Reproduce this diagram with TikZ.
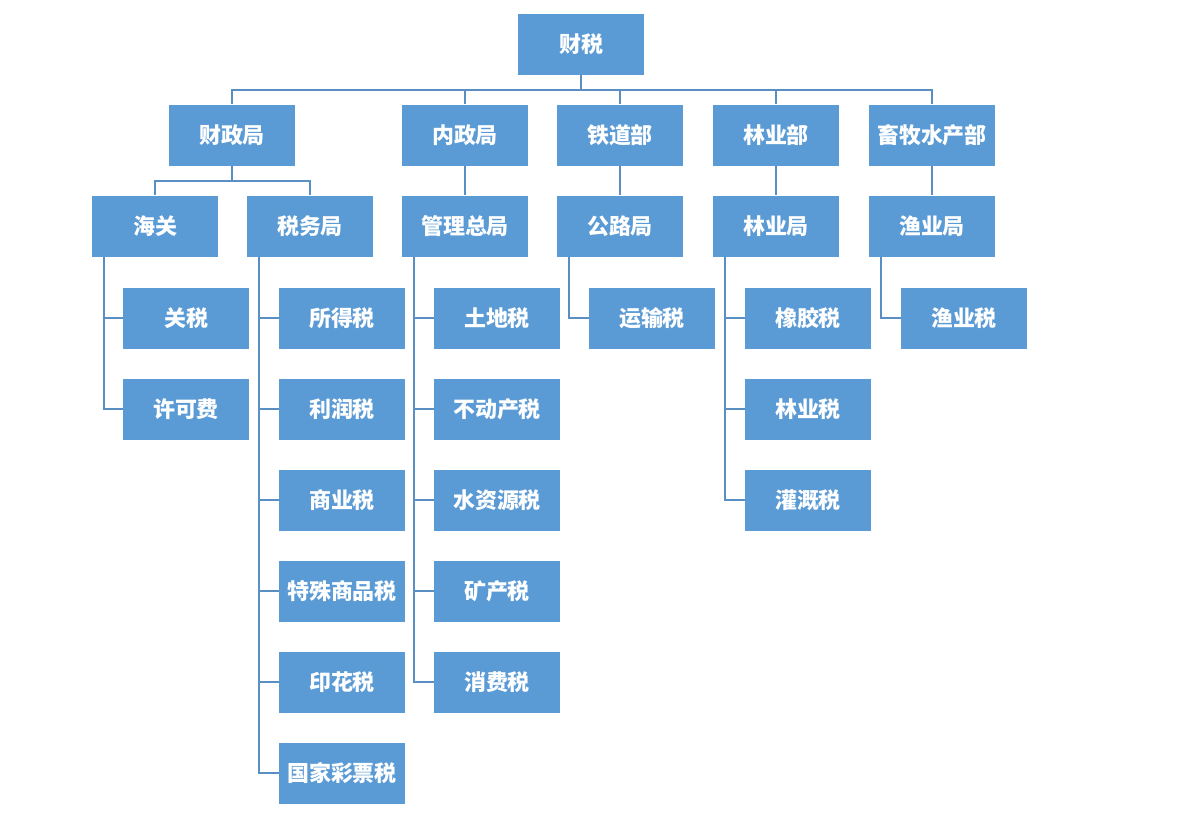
\documentclass[tikz,border=0pt]{standalone}
\usepackage{fontspec}
\setmainfont{Noto Sans CJK SC}
\definecolor{boxblue}{HTML}{5B9BD5}
\definecolor{lineblue}{HTML}{5A8FC4}
\tikzset{
  unit/.style={draw=none, fill=boxblue, text=white, font=\fontsize{12.5}{14}\selectfont\bfseries,
    minimum width=2.52cm, minimum height=1.22cm, inner sep=0pt},
  link/.style={draw=lineblue, line width=1.1pt}
}
\begin{document}
\begin{tikzpicture}[x=0.02cm, y=-0.02cm]
\useasboundingbox (0,0) rectangle (1182,819);
% top levels
\node[unit] (cs) at (581,44) {财税};
\node[unit] (czj) at (232,135) {财政局};
\node[unit] (nzj) at (465,135) {内政局};
\node[unit] (tdb) at (620,135) {铁道部};
\node[unit] (lyb) at (776,135) {林业部};
\node[unit] (xms) at (932,135) {畜牧水产部};
\node[unit] (hg) at (155,226) {海关};
\node[unit] (swj) at (310,226) {税务局};
\node[unit] (glz) at (465,226) {管理总局};
\node[unit] (glj) at (620,226) {公路局};
\node[unit] (lyj) at (776,226) {林业局};
\node[unit] (yyj) at (932,226) {渔业局};
% leaves
\node[unit] (gs) at (186,318) {关税};
\node[unit] (xkf) at (186,409) {许可费};
\foreach \n/\t [count=\i] in {sds/所得税, lrs/利润税, sys/商业税, tss/特殊商品税, yhs/印花税, gjc/国家彩票税}
  \node[unit] (\n) at (342,227+91*\i) {\t};
\foreach \n/\t [count=\i] in {tds/土地税, bdc/不动产税, szy/水资源税, kcs/矿产税, xfs/消费税}
  \node[unit] (\n) at (497,227+91*\i) {\t};
\node[unit] (yss) at (652,318) {运输税};
\foreach \n/\t [count=\i] in {xjs/橡胶税, lys/林业税, ggs/灌溉税}
  \node[unit] (\n) at (808,227+91*\i) {\t};
\node[unit] (yys) at (964,318) {渔业税};
% connectors
\foreach \c in {czj, nzj, tdb, lyb, xms}
  \draw[link] (cs.south) -- ++(0,15) -| (\c.north);
\foreach \c in {hg, swj}
  \draw[link] (czj.south) -- ++(0,15) -| (\c.north);
\draw[link] (nzj) -- (glz);
\draw[link] (tdb) -- (glj);
\draw[link] (lyb) -- (lyj);
\draw[link] (xms) -- (yyj);
\foreach \c in {gs, xkf}
  \draw[link] ([xshift=12*0.02cm]hg.south west) |- (\c.west);
\foreach \c in {sds, lrs, sys, tss, yhs, gjc}
  \draw[link] ([xshift=12*0.02cm]swj.south west) |- (\c.west);
\foreach \c in {tds, bdc, szy, kcs, xfs}
  \draw[link] ([xshift=12*0.02cm]glz.south west) |- (\c.west);
\draw[link] ([xshift=12*0.02cm]glj.south west) |- (yss.west);
\foreach \c in {xjs, lys, ggs}
  \draw[link] ([xshift=12*0.02cm]lyj.south west) |- (\c.west);
\draw[link] ([xshift=12*0.02cm]yyj.south west) |- (yys.west);
\end{tikzpicture}
\end{document}
